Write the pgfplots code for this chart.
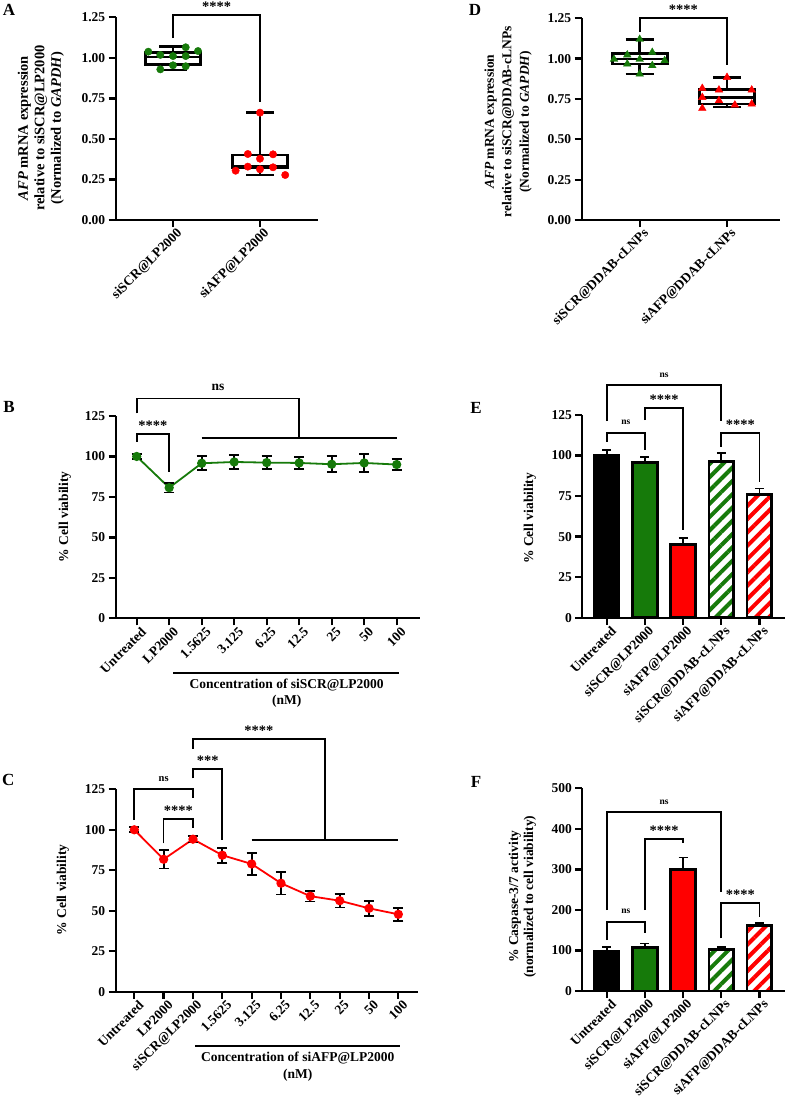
\documentclass[border=0pt]{standalone}
\usepackage{fontspec}
\setmainfont{Liberation Serif}
\usepackage{pgfplots}
\pgfplotsset{compat=1.18}
\usepgfplotslibrary{statistics}
\usetikzlibrary{patterns.meta}
\definecolor{cgreen}{RGB}{22,122,10}
\definecolor{cred}{RGB}{255,0,0}
\newcommand\tk{\bfseries\fontsize{13.5}{15}\selectfont}
\newcommand\stars{\bfseries\fontsize{14.5}{16}\selectfont}
\newcommand\lett{\bfseries\fontsize{17}{19}\selectfont}

\tikzset{br/.style={line width=1.7pt, black}}
\pgfplotsset{
  panel/.style={
    scale only axis, anchor=south west, axis lines*=left, clip=false,
    axis line style={-, line width=2.3pt, black},
    every tick/.style={black, line width=2.3pt},
    tick align=outside, major tick length=7pt,
    ticklabel style={font=\tk},
    /pgf/number format/assume math mode=true,
    xticklabel style={rotate=45, anchor=east, inner sep=2pt, yshift=-8pt, xshift=4pt},
  },
  bx/.style={black, line width=2.7pt, solid, boxplot/draw direction=y},
  ebar/.style={error bars/.cd, y dir=plus, y explicit,
    error bar style={line width=1.7pt, black, solid},
    error mark options={rotate=90, line width=1.7pt, black, mark size=4.5pt, solid}},
  barp/.style={ybar, bar width=0.65, bar shift=0pt, draw=black, line width=2.7pt},
  lineerr/.style={error bars/.cd, y dir=both, y explicit,
    error bar style={black, line width=1.8pt, solid},
    error mark options={rotate=90, black, line width=1.8pt, mark size=5pt, solid}},
}

\begin{document}
\begin{tikzpicture}
\path[use as bounding box, fill=white] (0,0) rectangle (786pt,-1107pt);

% ---------------- A: AFP mRNA, LP2000 ----------------
\begin{axis}[panel, at={(115.7pt,-220pt)}, width=202.3pt, height=202.7pt,
  xmin=0.341, xmax=2.667, ymin=0, ymax=1.25,
  ytick={0,0.25,0.5,0.75,1,1.25},
  yticklabel style={/pgf/number format/.cd, fixed, fixed zerofill, precision=2},
  xtick={1,2}, xticklabels={siSCR@LP2000, siAFP@LP2000}]
\addplot[bx, boxplot prepared={draw position=1, lower whisker=0.925,
  lower quartile=0.96, median=1.005, upper quartile=1.032, upper whisker=1.069,
  box extend=0.63, whisker extend=0.32}] coordinates {};
\addplot[bx, boxplot prepared={draw position=2, lower whisker=0.278,
  lower quartile=0.322, median=0.33, upper quartile=0.40, upper whisker=0.662,
  box extend=0.63, whisker extend=0.32}] coordinates {};
\addplot[only marks, mark=*, mark size=3.7pt, color=cgreen] coordinates {
  (0.716,1.038) (0.854,1.018) (1.0,1.011) (1.146,1.065) (1.146,1.011)
  (1.287,1.042) (0.854,0.929) (1.0,0.954) (1.146,0.948)};
\addplot[only marks, mark=*, mark size=3.7pt, color=cred] coordinates {
  (1.72,0.304) (1.86,0.329) (1.86,0.407) (2.0,0.3125) (2.0,0.378)
  (2.15,0.325) (2.15,0.405) (2.29,0.2775) (2.0,0.662)};
\draw[br] (axis cs:1,1.122) |- (axis cs:2,1.264) -- (axis cs:2,0.730);
\node[anchor=base, font=\stars, inner sep=0pt] at ([yshift=3.5pt]axis cs:1.5,1.264) {****};
\end{axis}

% ---------------- D: AFP mRNA, DDAB-cLNPs ----------------
\begin{axis}[panel, at={(581.7pt,-220pt)}, width=198.3pt, height=201.7pt,
  xmin=0.336, xmax=2.607, ymin=0, ymax=1.25,
  ytick={0,0.25,0.5,0.75,1,1.25},
  yticklabel style={/pgf/number format/.cd, fixed, fixed zerofill, precision=2},
  xtick={1,2}, xticklabels={siSCR@DDAB-cLNPs, siAFP@DDAB-cLNPs}]
\addplot[bx, boxplot prepared={draw position=1, lower whisker=0.905,
  lower quartile=0.967, median=0.998, upper quartile=1.033, upper whisker=1.12,
  box extend=0.63, whisker extend=0.32}] coordinates {};
\addplot[bx, boxplot prepared={draw position=2, lower whisker=0.70,
  lower quartile=0.719, median=0.76, upper quartile=0.81, upper whisker=0.885,
  box extend=0.63, whisker extend=0.32}] coordinates {};
\addplot[only marks, mark=triangle*, mark size=4.4pt, color=cgreen] coordinates {
  (0.706,0.996) (0.858,1.023) (0.858,0.967) (1.0,1.12) (1.0,0.996)
  (1.144,1.039) (1.144,0.957) (1.286,0.988) (1.0,0.905)};
\addplot[only marks, mark=triangle*, mark size=4.4pt, color=cred] coordinates {
  (1.717,0.816) (1.717,0.760) (1.717,0.692) (1.908,0.806) (1.908,0.740)
  (2.0,0.884) (2.09,0.713) (2.283,0.806) (2.283,0.719)};
\draw[br] (axis cs:1,1.167) |- (axis cs:2,1.25) -- (axis cs:2,0.96);
\node[anchor=base, font=\stars, inner sep=0pt] at ([yshift=3.5pt]axis cs:1.5,1.25) {****};
\end{axis}

% ---------------- B: viability, siSCR@LP2000 ----------------
\begin{axis}[panel, at={(115.7pt,-618.3pt)}, width=304.3pt, height=202.3pt,
  xmin=-0.646, xmax=8.717, ymin=0, ymax=125,
  ytick={0,25,50,75,100,125},
  xtick={0,...,8},
  xticklabels={Untreated, LP2000, 1.5625, 3.125, 6.25, 12.5, 25, 50, 100}]
\addplot[color=cgreen, line width=1.8pt, mark=*, mark size=3.7pt, lineerr]
  coordinates {
  (0,100) +- (0,1.5) (1,80.7) +- (0,3) (2,95.8) +- (0,4.3)
  (3,96.6) +- (0,4.4) (4,96.2) +- (0,4) (5,96) +- (0,3.7)
  (6,95.2) +- (0,5) (7,96) +- (0,5.5) (8,95) +- (0,3.3)};
\draw[br] (axis cs:0,109.1) |- (axis cs:1,113.9) -- (axis cs:1,90.6);
\node[anchor=base, font=\stars, inner sep=0pt] at ([yshift=3.5pt]axis cs:0.5,113.9) {****};
\draw[br] (axis cs:0,126.7) |- (axis cs:5,135.9) -- (axis cs:5,111.2);
\draw[br] (axis cs:2,111.2) -- (axis cs:8,111.2);
\node[anchor=base, font=\tk, inner sep=0pt] at ([yshift=8pt]axis cs:2.5,135.9) {ns};
\end{axis}

% ---------------- C: viability, siAFP@LP2000 ----------------
\begin{axis}[panel, at={(115.7pt,-991.7pt)}, width=302.6pt, height=202.4pt,
  xmin=-0.634, xmax=9.68, ymin=0, ymax=125,
  ytick={0,25,50,75,100,125},
  xtick={0,...,9},
  xticklabels={Untreated, LP2000, siSCR@LP2000, 1.5625, 3.125, 6.25, 12.5, 25, 50, 100}]
\addplot[color=cred, line width=1.8pt, mark=*, mark size=3.7pt, lineerr]
  coordinates {
  (0,100) +- (0,1.5) (1,81.8) +- (0,5.7) (2,94.2) +- (0,2)
  (3,84.3) +- (0,4.7) (4,78.9) +- (0,7) (5,67) +- (0,7)
  (6,59) +- (0,3.3) (7,56.2) +- (0,4.2) (8,51.5) +- (0,4.5) (9,47.8) +- (0,4)};
\draw[br] (axis cs:0,106) |- (axis cs:2,125) -- (axis cs:2,119.4);
\node[anchor=base, font=\bfseries\fontsize{10.5}{12}\selectfont, inner sep=0pt] at ([yshift=8pt]axis cs:1,125) {ns};
\draw[br] (axis cs:1,91.65) |- (axis cs:2,106.5) -- (axis cs:2,100.9);
\node[anchor=base, font=\stars, inner sep=0pt] at ([yshift=3.5pt]axis cs:1.5,106.5) {****};
\draw[br] (axis cs:2,131.8) |- (axis cs:3,137.4) -- (axis cs:3,93.7);
\node[anchor=base, font=\stars, inner sep=0pt] at ([yshift=3.5pt]axis cs:2.5,137.4) {***};
\draw[br] (axis cs:2,149.9) |- (axis cs:6.5,156.1) -- (axis cs:6.5,93.7);
\draw[br] (axis cs:4,93.7) -- (axis cs:9,93.7);
\node[anchor=base, font=\stars, inner sep=0pt] at ([yshift=3.5pt]axis cs:4.25,156.1) {****};
\end{axis}

% ---------------- E: viability, bars ----------------
\begin{axis}[panel, at={(582.3pt,-617.7pt)}, width=202.7pt, height=202.7pt,
  xmin=-0.64, xmax=4.67, ymin=0, ymax=125,
  ytick={0,25,50,75,100,125},
  xtick={0,...,4},
  xticklabels={Untreated, siSCR@LP2000, siAFP@LP2000, siSCR@DDAB-cLNPs, siAFP@DDAB-cLNPs}]
\addplot[barp, fill=black, ebar] coordinates {(0,100) +- (0,3.5)};
\addplot[barp, fill=cgreen, ebar] coordinates {(1,95.5) +- (0,3.5)};
\addplot[barp, fill=cred, ebar] coordinates {(2,45) +- (0,4)};
\addplot[barp, pattern={Lines[angle=45,distance=9.4pt,line width=4pt]}, pattern color=cgreen, ebar] coordinates {(3,96.5) +- (0,5)};
\addplot[barp, pattern={Lines[angle=45,distance=9.4pt,line width=4pt]}, pattern color=cred, ebar] coordinates {(4,76) +- (0,3.7)};
\draw[br] (axis cs:0,108.5) |- (axis cs:1,114.1) -- (axis cs:1,103.4);
\node[anchor=base, font=\bfseries\fontsize{9.5}{11}\selectfont, inner sep=0pt] at ([yshift=8pt]axis cs:0.5,114.1) {ns};
\draw[br] (axis cs:1,121.9) |- (axis cs:2,129.5) -- (axis cs:2,54.1);
\node[anchor=base, font=\stars, inner sep=0pt] at ([yshift=3.5pt]axis cs:1.5,129.5) {****};
\draw[br] (axis cs:0,121.3) |- (axis cs:3,143.5) -- (axis cs:3,121.5);
\node[anchor=base, font=\bfseries\fontsize{9.5}{11}\selectfont, inner sep=0pt] at ([yshift=8pt]axis cs:1.5,143.5) {ns};
\draw[br] (axis cs:3,105.5) |- (axis cs:4,114.1) -- (axis cs:4,83.9);
\node[anchor=base, font=\stars, inner sep=0pt] at ([yshift=3.5pt]axis cs:3.5,114.1) {****};
\end{axis}

% ---------------- F: caspase-3/7, bars ----------------
\begin{axis}[panel, at={(582.3pt,-991pt)}, width=202.7pt, height=202.7pt,
  xmin=-0.64, xmax=4.67, ymin=0, ymax=500,
  ytick={0,100,200,300,400,500},
  xtick={0,...,4},
  xticklabels={Untreated, siSCR@LP2000, siAFP@LP2000, siSCR@DDAB-cLNPs, siAFP@DDAB-cLNPs}]
\addplot[barp, fill=black, ebar] coordinates {(0,99) +- (0,10)};
\addplot[barp, fill=cgreen, ebar] coordinates {(1,108) +- (0,9.5)};
\addplot[barp, fill=cred, ebar] coordinates {(2,300) +- (0,29)};
\addplot[barp, pattern={Lines[angle=45,distance=9.4pt,line width=4pt]}, pattern color=cgreen, ebar] coordinates {(3,103) +- (0,6)};
\addplot[barp, pattern={Lines[angle=45,distance=9.4pt,line width=4pt]}, pattern color=cred, ebar] coordinates {(4,161) +- (0,6)};
\draw[br] (axis cs:0,125.8) |- (axis cs:1,170.9) -- (axis cs:1,142.3);
\node[anchor=base, font=\bfseries\fontsize{9.5}{11}\selectfont, inner sep=0pt] at ([yshift=8pt]axis cs:0.5,170.9) {ns};
\draw[br] (axis cs:1,199.8) |- (axis cs:2,374.9) -- (axis cs:2,365.8);
\node[anchor=base, font=\stars, inner sep=0pt] at ([yshift=3.5pt]axis cs:1.5,374.9) {****};
\draw[br] (axis cs:0,199.8) |- (axis cs:3,440.8) -- (axis cs:3,244.9);
\node[anchor=base, font=\bfseries\fontsize{9.5}{11}\selectfont, inner sep=0pt] at ([yshift=8pt]axis cs:1.5,440.8) {ns};
\draw[br] (axis cs:3,130) |- (axis cs:4,216.3) -- (axis cs:4,183.3);
\node[anchor=base, font=\stars, inner sep=0pt] at ([yshift=3.5pt]axis cs:3.5,216.3) {****};
\end{axis}

% ---------------- axis titles, group lines, panel letters ----------------
\node[rotate=90, align=center, font=\bfseries\fontsize{14.5}{16.5}\selectfont] at (41pt,-128pt)
  {\textit{AFP} mRNA expression\\relative to siSCR@LP2000\\(Normalized to \textit{GAPDH})};
\node[rotate=90, align=center, font=\bfseries\fontsize{13.5}{17.5}\selectfont] at (508pt,-121.7pt)
  {\textit{AFP} mRNA expression\\relative to siSCR@DDAB-cLNPs\\(Normalized to \textit{GAPDH})};
\node[rotate=90, font=\tk] at (65pt,-516.7pt) {\% Cell viability};
\node[rotate=90, font=\tk] at (63pt,-890pt) {\% Cell viability};
\node[rotate=90, font=\tk] at (530pt,-518.3pt) {\% Cell viability};
\node[rotate=90, align=center, font=\tk] at (522.5pt,-896.7pt)
  {\% Caspase-3/7 activity\\(normalized to cell viability)};

\draw[line width=2.3pt] (173pt,-673.3pt) -- (399pt,-673.3pt);
\node[font=\tk] at (286.7pt,-685pt) {Concentration of siSCR@LP2000};
\node[font=\tk] at (286.7pt,-701.7pt) {(nM)};
\draw[line width=2.3pt] (195pt,-1046pt) -- (400pt,-1046pt);
\node[font=\tk] at (297.7pt,-1058.3pt) {Concentration of siAFP@LP2000};
\node[font=\tk] at (297.7pt,-1075pt) {(nM)};

\node[font=\lett] at (9pt,-10pt) {A};
\node[font=\lett] at (475pt,-10pt) {D};
\node[font=\lett] at (9pt,-407pt) {B};
\node[font=\lett] at (476pt,-407.5pt) {E};
\node[font=\lett] at (8.3pt,-780pt) {C};
\node[font=\lett] at (476pt,-781.7pt) {F};
\end{tikzpicture}
\end{document}
